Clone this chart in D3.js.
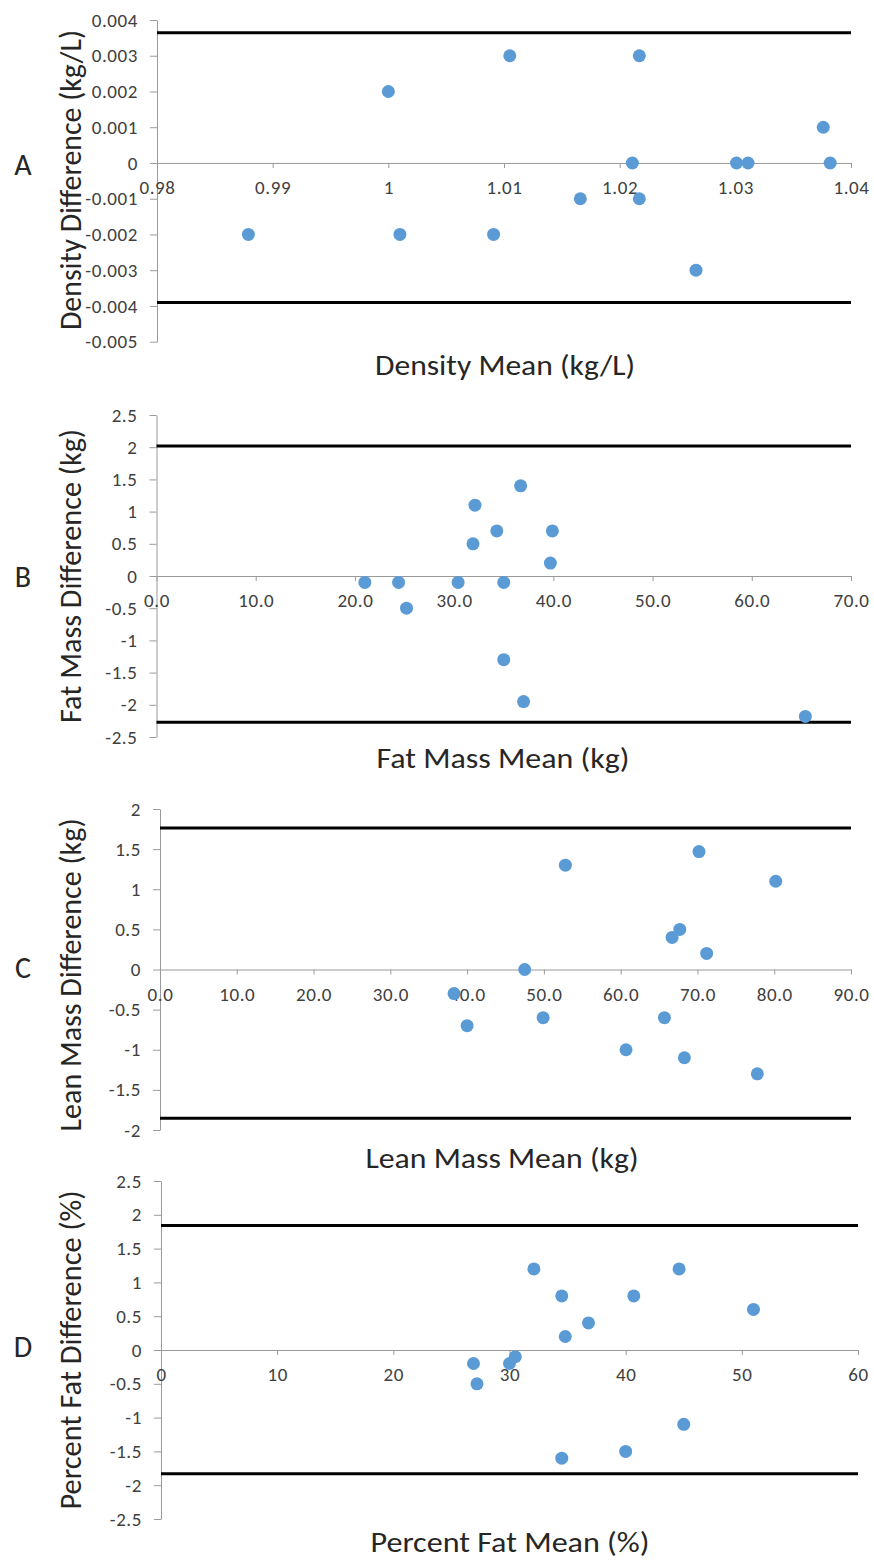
<!DOCTYPE html>
<html>
<head>
<meta charset="utf-8">
<script src="https://cdn.jsdelivr.net/npm/d3@7"></script>
<style>
  body { margin: 0; background: #fff; }
  svg text { font-family: Carlito, Calibri, Lato, sans-serif; }
  .tick text { fill: #404040; font-size: 19px; letter-spacing: 0.6px; }
  .tick line, .domain { stroke: #9a9a9a; }
</style>
</head>
<body>
<svg id="chart" width="874" height="1560"></svg>
<script>
// A - density
var densityMean = [0.9879, 1.0000, 1.0010, 1.0091, 1.0105, 1.0166, 1.0211, 1.0217, 1.0217, 1.0266, 1.0301, 1.0311, 1.0376, 1.0382];
var densityDiff = [-0.002, 0.002, -0.002, -0.002, 0.003, -0.001, 0, 0.003, -0.001, -0.003, 0, 0, 0.001, 0];
var densityLimits = [0.00364, -0.0039];
var densityXTicks = [0.98, 0.99, 1, 1.01, 1.02, 1.03, 1.04];
var densityYTicks = [0.004, 0.003, 0.002, 0.001, 0, -0.001, -0.002, -0.003, -0.004, -0.005];

// B - fat mass
var fatMean = [21.0, 24.4, 25.2, 30.4, 31.9, 32.1, 34.3, 35.0, 35.0, 36.7, 37.0, 39.7, 39.9, 65.4];
var fatDiff = [-0.1, -0.1, -0.5, -0.1, 0.5, 1.1, 0.7, -0.1, -1.3, 1.4, -1.95, 0.2, 0.7, -2.18];
var fatLimits = [2.02, -2.27];
var fatXTicks = [0, 10, 20, 30, 40, 50, 60, 70];
var fatYTicks = [2.5, 2, 1.5, 1, 0.5, 0, -0.5, -1, -1.5, -2, -2.5];

// C - lean mass
var leanMean = [38.3, 40.0, 47.5, 49.9, 52.8, 60.7, 65.7, 66.7, 67.7, 68.3, 70.2, 71.2, 77.8, 80.2];
var leanDiff = [-0.3, -0.7, 0, -0.6, 1.3, -1.0, -0.6, 0.4, 0.5, -1.1, 1.47, 0.2, -1.3, 1.1];
var leanLimits = [1.763, -1.855];
var leanXTicks = [0, 10, 20, 30, 40, 50, 60, 70, 80, 90];
var leanYTicks = [2, 1.5, 1, 0.5, 0, -0.5, -1, -1.5, -2];

// D - percent fat
var pctMean = [26.9, 27.2, 30.0, 30.5, 32.1, 34.5, 34.8, 34.5, 36.8, 40.0, 40.7, 44.6, 45.0, 51.0];
var pctDiff = [-0.2, -0.5, -0.2, -0.1, 1.2, 0.8, 0.2, -1.6, 0.4, -1.5, 0.8, 1.2, -1.1, 0.6];
var pctLimits = [1.84, -1.83];
var pctXTicks = [0, 10, 20, 30, 40, 50, 60];
var pctYTicks = [2.5, 2, 1.5, 1, 0.5, 0, -0.5, -1, -1.5, -2, -2.5];

var plain = function(d) { return String(d); };
var oneDec = function(d) { return d.toFixed(1); };

var panels = [
  { letter: "A", mean: densityMean, diff: densityDiff, limits: densityLimits,
    xTicks: densityXTicks, yTicks: densityYTicks, xFmt: plain,
    yFmt: function(d) { return d === 0 ? "0" : d.toFixed(3); },
    xTitle: "Density Mean (kg/L)", yTitle: "Density Difference (kg/L)",
    x0: 157, x1: 851, top: 20, bottom: 341.7, titleX: 505, titleY: 375, xLen: 260, yMid: 180, yLen: 300, letterY: 175 },
  { letter: "B", mean: fatMean, diff: fatDiff, limits: fatLimits,
    xTicks: fatXTicks, yTicks: fatYTicks, xFmt: oneDec, yFmt: plain,
    xTitle: "Fat Mass Mean (kg)", yTitle: "Fat Mass Difference (kg)",
    x0: 156.5, x1: 851, top: 415, bottom: 737, titleX: 503, titleY: 768, xLen: 253, yMid: 576, yLen: 294, letterY: 587 },
  { letter: "C", mean: leanMean, diff: leanDiff, limits: leanLimits,
    xTicks: leanXTicks, yTicks: leanYTicks, xFmt: oneDec, yFmt: plain,
    xTitle: "Lean Mass Mean (kg)", yTitle: "Lean Mass Difference (kg)",
    x0: 160, x1: 851, top: 809, bottom: 1130, titleX: 502, titleY: 1168, xLen: 273, yMid: 975, yLen: 313, letterY: 978 },
  { letter: "D", mean: pctMean, diff: pctDiff, limits: pctLimits,
    xTicks: pctXTicks, yTicks: pctYTicks, xFmt: plain, yFmt: plain,
    xTitle: "Percent Fat Mean (%)", yTitle: "Percent Fat Difference (%)",
    x0: 161, x1: 858, top: 1181, bottom: 1519, titleX: 510, titleY: 1552, xLen: 279, yMid: 1350, yLen: 319, letterY: 1357 }
];

var svg = d3.select("#chart");
svg.append("rect").attr("width", 874).attr("height", 1560).attr("fill", "#fff");

panels.forEach(function(p) {
  var x = d3.scaleLinear()
      .domain(d3.extent(p.xTicks))
      .range([p.x0, p.x1]);
  var y = d3.scaleLinear()
      .domain(d3.extent(p.yTicks))
      .range([p.bottom, p.top]);

  var g = svg.append("g");

  // y axis
  g.append("g")
      .attr("transform", "translate(" + p.x0 + ",0)")
      .call(d3.axisLeft(y).tickValues(p.yTicks).tickFormat(p.yFmt)
        .tickSize(7).tickPadding(12).tickSizeOuter(0));

  // x axis sits on the zero line
  g.append("g")
      .attr("transform", "translate(0," + y(0) + ")")
      .call(d3.axisBottom(x).tickValues(p.xTicks).tickFormat(p.xFmt)
        .tickSize(5).tickPadding(13).tickSizeOuter(0));

  // limits of agreement
  g.selectAll(".limit")
      .data(p.limits)
    .enter().append("line")
      .attr("class", "limit")
      .attr("x1", p.x0)
      .attr("x2", p.x1)
      .attr("y1", function(d) { return y(d); })
      .attr("y2", function(d) { return y(d); })
      .attr("stroke", "#000")
      .attr("stroke-width", 3);

  // points
  g.selectAll(".pt")
      .data(p.mean)
    .enter().append("circle")
      .attr("class", "pt")
      .attr("cx", function(d) { return x(d); })
      .attr("cy", function(d, i) { return y(p.diff[i]); })
      .attr("r", 6.5)
      .attr("fill", "#5b9bd5");

  // titles
  g.append("text")
      .attr("x", p.titleX)
      .attr("y", p.titleY)
      .attr("text-anchor", "middle")
      .attr("font-size", 28)
      .attr("fill", "#262626")
      .attr("textLength", p.xLen)
      .attr("lengthAdjust", "spacingAndGlyphs")
      .text(p.xTitle);

  g.append("text")
      .attr("transform", "translate(81," + p.yMid + ") rotate(-90)")
      .attr("text-anchor", "middle")
      .attr("font-size", 31)
      .attr("fill", "#262626")
      .attr("textLength", p.yLen)
      .attr("lengthAdjust", "spacingAndGlyphs")
      .text(p.yTitle);

  g.append("text")
      .attr("x", 23)
      .attr("y", p.letterY)
      .attr("text-anchor", "middle")
      .attr("font-size", 30)
      .attr("fill", "#262626")
      .text(p.letter);
});
</script>
</body>
</html>
